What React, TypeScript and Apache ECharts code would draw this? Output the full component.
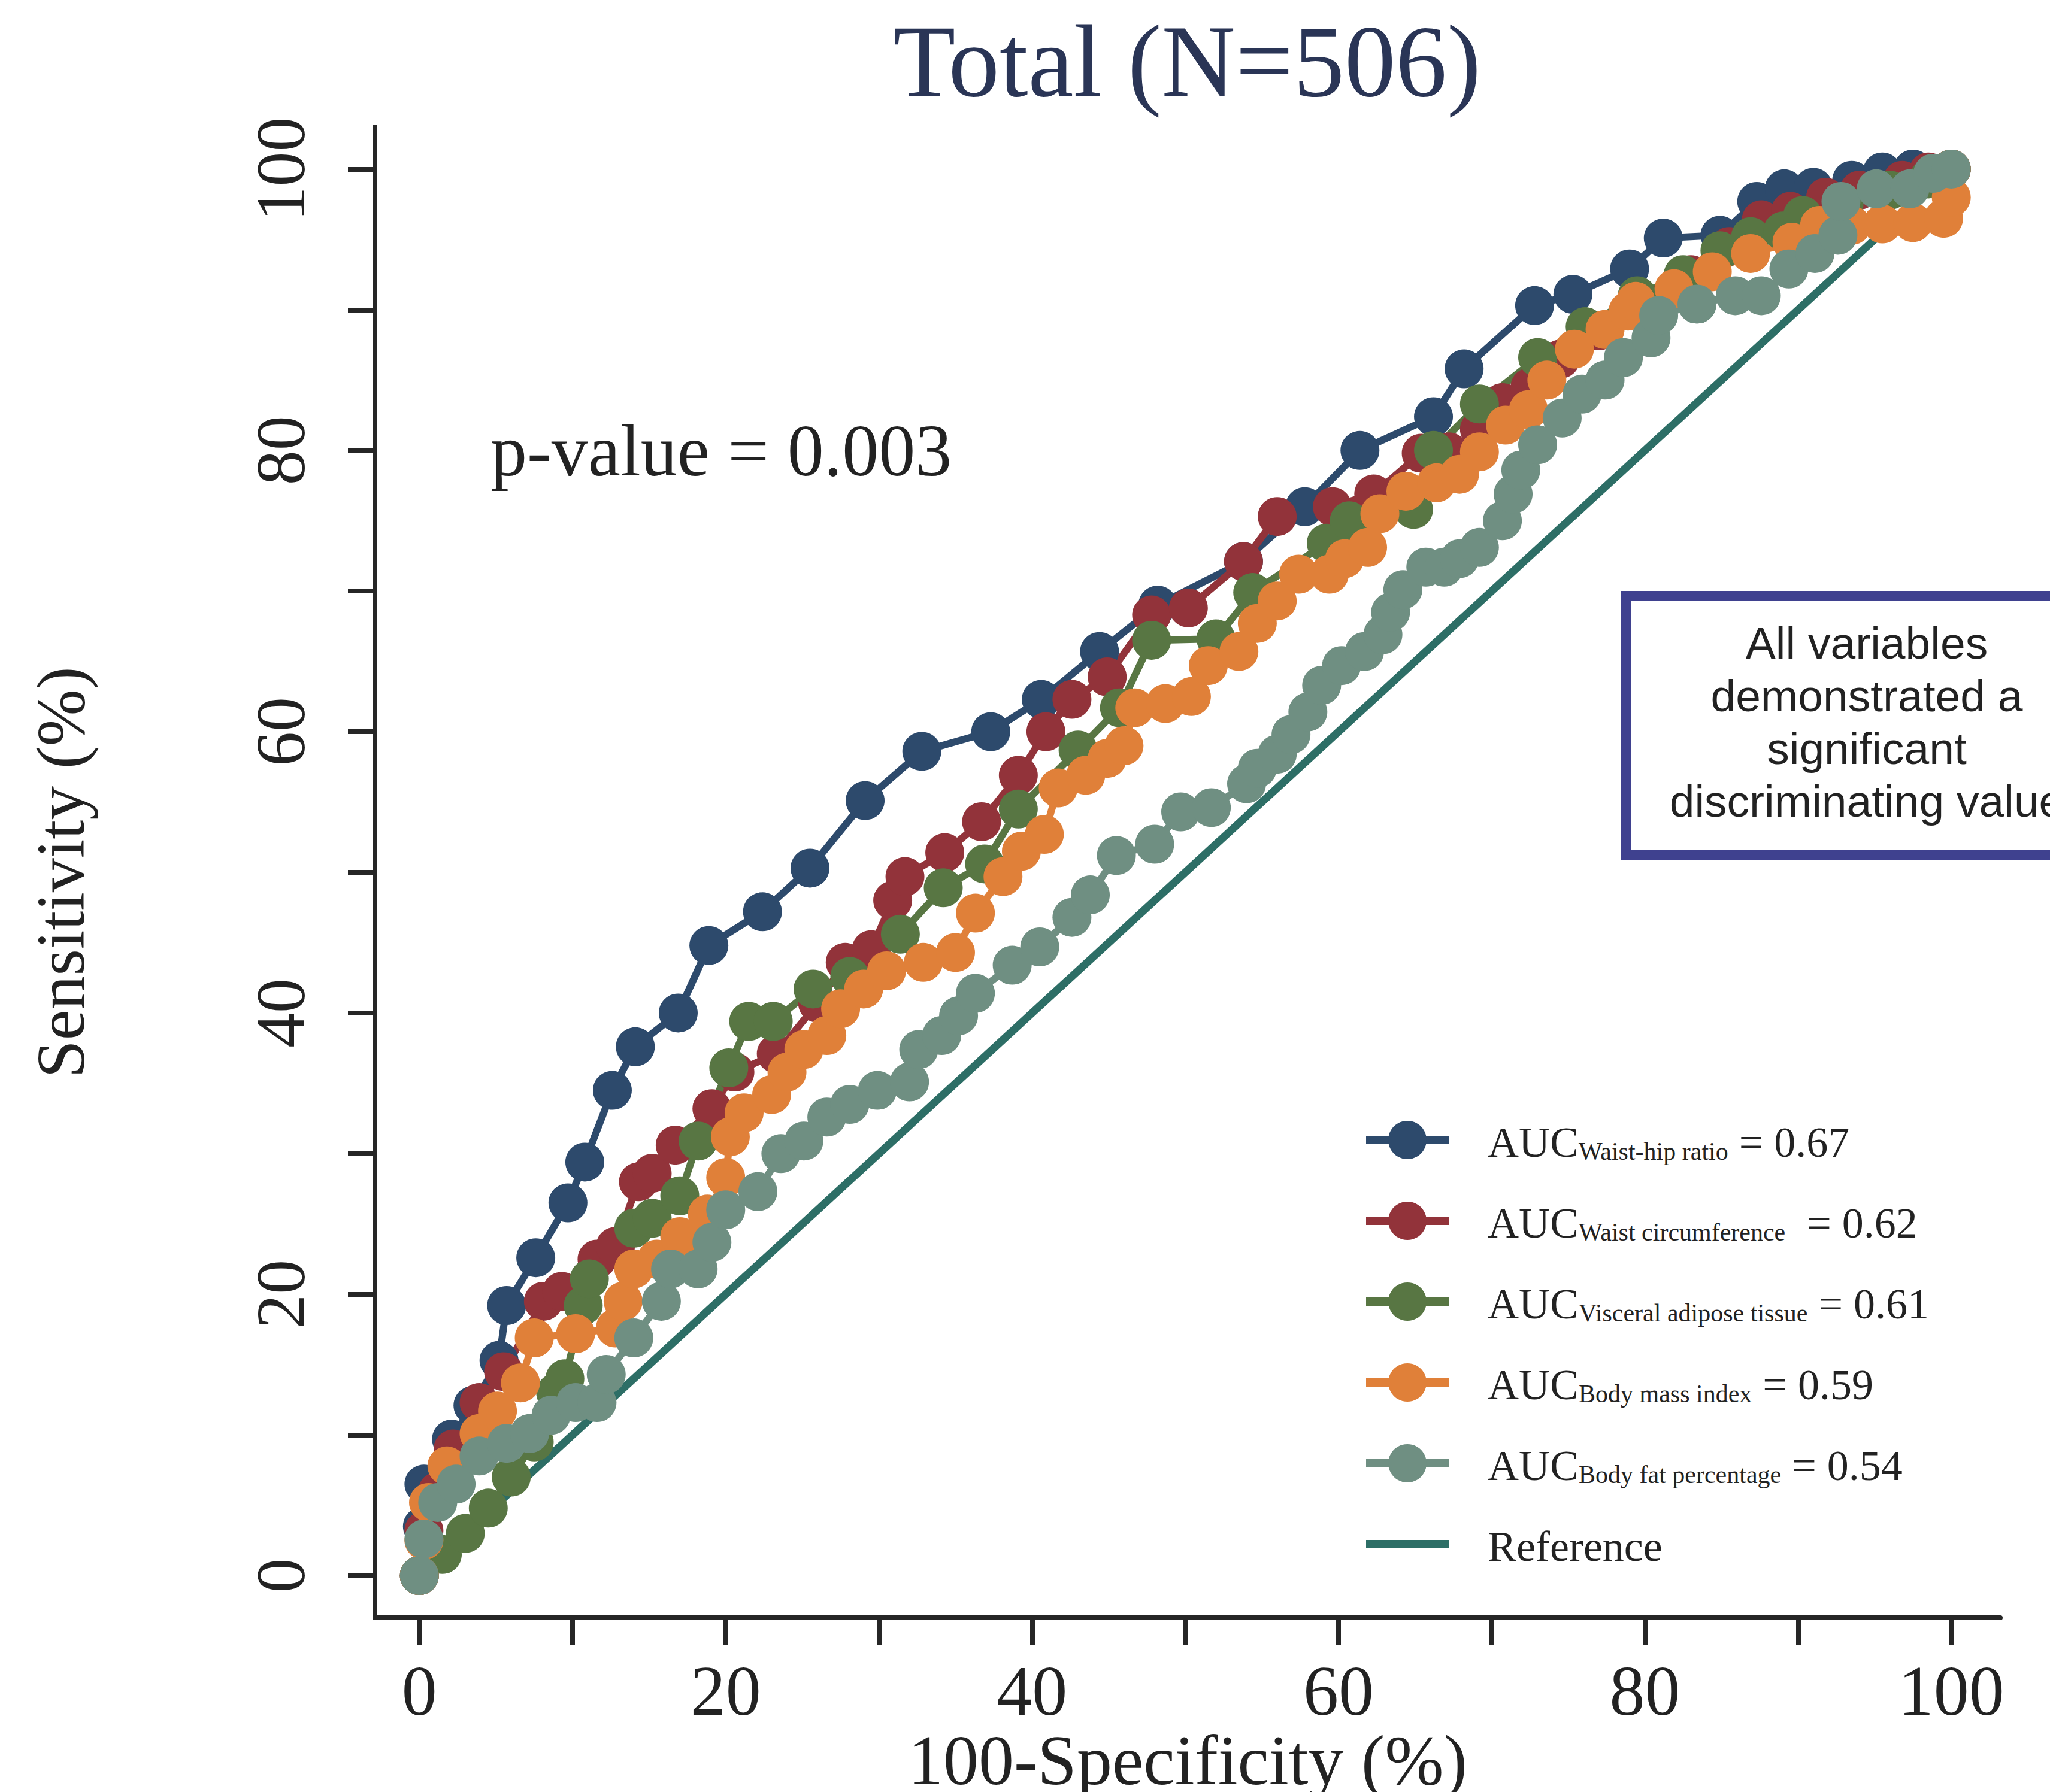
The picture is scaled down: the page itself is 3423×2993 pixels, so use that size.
import React, { useEffect, useRef } from "react";
import * as echarts from "echarts";

// ---------- data ----------
const xTickValues = [0, 10, 20, 30, 40, 50, 60, 70, 80, 90, 100];
const xLabelValues = [0, 20, 40, 60, 80, 100];
const yTickValues = [0, 10, 20, 30, 40, 50, 60, 70, 80, 90, 100];
const yLabelValues = [0, 20, 40, 60, 80, 100];

const seriesNames = [
  "Waist-hip ratio",
  "Waist circumference",
  "Visceral adipose tissue",
  "Body mass index",
  "Body fat percentage",
];
const aucValues = ["0.67", "0.62", "0.61", "0.59", "0.54"];
const aucSeparators = [" ", "  ", " ", " ", " "];
const referenceName = "Reference";

const waistHipRatio: [number, number][] = [
  [0, 0], [0.2, 3.5], [0.3, 6.5], [2.1, 9.7], [3.5, 12.1], [5.2, 15.3], [5.7, 19.2],
  [7.6, 22.6], [9.7, 26.5], [10.8, 29.4], [12.6, 34.5], [14.1, 37.6], [16.9, 40.0],
  [18.9, 44.8], [22.4, 47.2], [25.5, 50.3], [29.1, 55.1], [32.8, 58.6], [37.3, 60.0],
  [40.6, 62.3], [44.4, 65.7], [48.2, 69.0], [53.8, 72.1], [57.8, 76.0], [61.4, 80.0],
  [66.2, 82.4], [68.2, 85.8], [72.8, 90.3], [75.3, 91.1], [79.0, 92.9], [81.2, 95.1],
  [84.9, 95.3], [87.3, 97.7], [89.1, 98.6], [91.0, 98.7], [93.5, 99.2], [95.5, 99.8],
  [97.5, 100], [100, 100],
];

const waistCircumference: [number, number][] = [
  [0, 0], [0.3, 3.2], [1.2, 6.0], [2.2, 9.0], [3.9, 12.3], [5.5, 14.5], [8.1, 19.5],
  [9.3, 20.2], [11.6, 22.5], [12.8, 23.4], [14.3, 28.0], [15.2, 28.6], [16.7, 30.6],
  [19.1, 33.2], [20.6, 35.8], [23.3, 37.1], [26.0, 40.7], [27.8, 43.6], [29.5, 44.5],
  [30.9, 48.0], [31.7, 49.7], [34.3, 51.4], [36.7, 53.6], [39.1, 56.9], [40.9, 60.0],
  [42.6, 62.3], [44.9, 63.9], [47.8, 68.3], [50.2, 68.8], [53.8, 72.1], [56.0, 75.3],
  [59.6, 76.0], [62.3, 76.9], [65.4, 79.8], [67.2, 79.9], [69.2, 81.5], [70.7, 83.4],
  [72.5, 84.5], [74.5, 86.5], [77.0, 88.5], [80.0, 90.5], [83.0, 92.5], [85.5, 94.5],
  [87.6, 96.4], [89.5, 97.0], [91.8, 98.0], [94.0, 98.5], [96.8, 99.2], [98.5, 99.8],
  [100, 100],
];

const visceralAdiposeTissue: [number, number][] = [
  [0, 0], [1.5, 1.5], [3.0, 3.0], [4.5, 4.8], [6.0, 7.0], [7.5, 9.5], [8.9, 13.0],
  [9.5, 14.0], [10.7, 19.2], [11.1, 21.1], [14.0, 24.7], [15.2, 25.4], [17.0, 27.0],
  [18.2, 30.9], [20.2, 36.1], [21.5, 39.4], [23.1, 39.4], [25.7, 41.7], [28.1, 42.6],
  [31.4, 45.6], [34.2, 48.9], [36.9, 50.6], [39.1, 54.5], [43.0, 58.7], [45.7, 61.7],
  [47.8, 66.5], [52.0, 66.6], [54.4, 69.9], [59.2, 73.4], [60.7, 75.0], [64.9, 75.8],
  [66.2, 80.0], [69.2, 83.3], [73.0, 86.6], [76.1, 88.8], [79.5, 91.0], [82.5, 92.5],
  [84.9, 94.2], [86.9, 95.2], [89.0, 95.6], [90.3, 96.7], [93.0, 97.5], [96.0, 98.5],
  [98.5, 99.3], [100, 100],
];

const bodyMassIndex: [number, number][] = [
  [0, 0], [0.3, 2.5], [0.6, 5.2], [1.8, 7.8], [3.9, 10.1], [5.1, 11.7], [6.6, 13.7],
  [7.5, 16.9], [10.2, 17.2], [12.8, 17.6], [13.3, 19.5], [14.0, 21.8], [15.5, 22.5],
  [17.0, 24.1], [18.8, 25.7], [20.0, 28.3], [20.3, 31.2], [21.2, 32.9], [23.0, 34.2],
  [24.0, 35.8], [25.1, 37.4], [26.6, 38.4], [27.5, 40.3], [29.0, 41.7], [30.5, 43.0],
  [32.9, 43.6], [35.0, 44.3], [36.3, 47.1], [38.1, 49.7], [39.3, 51.5], [40.8, 52.7],
  [41.7, 56.0], [43.5, 56.9], [44.9, 58.1], [46.0, 59.0], [46.7, 61.7], [48.7, 62.0],
  [50.4, 62.5], [51.5, 64.7], [53.5, 65.7], [54.7, 67.7], [56.0, 69.3], [57.4, 71.2],
  [59.4, 71.2], [60.4, 72.3], [61.9, 73.1], [62.7, 75.5], [64.4, 77.1], [66.4, 77.7],
  [67.9, 78.3], [69.2, 79.9], [70.9, 81.8], [72.4, 82.9], [73.6, 85.0], [75.4, 87.2],
  [77.4, 88.6], [78.9, 89.9], [79.4, 90.6], [81.9, 91.5], [84.4, 92.7], [86.9, 94.0],
  [89.6, 94.8], [91.4, 96.0], [93.5, 96.0], [95.5, 96.1], [97.5, 96.2], [99.5, 96.5],
  [100, 98.0], [100, 100],
];

const bodyFatPercentage: [number, number][] = [
  [0, 0], [0.3, 2.6], [1.2, 5.2], [2.4, 6.5], [3.9, 8.5], [5.7, 9.4], [7.2, 10.1],
  [8.6, 11.4], [10.2, 12.3], [11.6, 12.3], [12.2, 14.3], [14.0, 16.9], [15.8, 19.5],
  [16.4, 21.8], [18.2, 21.8], [19.1, 23.7], [20.0, 26.0], [22.1, 27.3], [23.6, 30.0],
  [25.1, 30.9], [26.6, 32.6], [28.1, 33.5], [29.9, 34.5], [32.0, 35.1], [32.6, 37.4],
  [34.1, 38.4], [35.2, 39.8], [36.3, 41.4], [38.7, 43.4], [40.5, 44.7], [42.6, 46.8],
  [43.8, 48.4], [45.5, 51.2], [48.0, 52.0], [49.7, 54.3], [51.7, 54.6], [54.0, 56.3],
  [54.7, 57.4], [56.0, 58.4], [56.9, 59.8], [58.0, 61.4], [58.9, 63.3], [60.2, 64.7],
  [61.7, 65.7], [62.9, 66.9], [63.4, 68.5], [64.2, 70.1], [65.7, 71.7], [66.9, 71.7],
  [67.9, 72.3], [69.2, 73.1], [70.7, 75.0], [71.4, 76.9], [71.9, 78.6], [73.0, 80.4],
  [74.6, 82.3], [75.9, 84.0], [77.4, 85.0], [78.6, 86.6], [80.4, 88.0], [80.9, 89.6],
  [83.4, 90.4], [85.9, 91.0], [87.6, 91.0], [89.4, 92.9], [91.1, 94.0], [92.6, 95.3],
  [92.8, 97.7], [95.1, 98.6], [97.3, 98.6], [98.8, 99.7], [100, 100],
];

const referenceLine: [number, number][] = [[0, 0], [100, 100]];

const rocData = [waistHipRatio, waistCircumference, visceralAdiposeTissue, bodyMassIndex, bodyFatPercentage];
const rocColors = ["#2d4a6c", "#92333a", "#587643", "#e08039", "#6f8f82"];
const referenceColor = "#2d6e66";

const titleText = "Total (N=506)";
const pValueText = "p-value = 0.003";
const boxLines = ["All variables", "demonstrated a", "significant", "discriminating value"];

// ---------- component ----------
const SERIF = "'Liberation Serif', 'Times New Roman', serif";
const SANS = "'Liberation Sans', Arial, sans-serif";
const INK = "#222222";

export default function App() {
  const ref = useRef<HTMLDivElement>(null);

  useEffect(() => {
    document.body.style.margin = "0";
    if (!ref.current) return;
    const chart = echarts.init(ref.current, null, { renderer: "svg" });

    const rocSeries = rocData.map((d, i) => ({
      name: seriesNames[i],
      type: "line",
      data: d,
      color: rocColors[i],
      symbol: "circle",
      symbolSize: 65,
      showAllSymbol: true,
      lineStyle: { width: 12, color: rocColors[i] },
      itemStyle: { color: rocColors[i] },
      emphasis: { disabled: true },
      clip: false,
    }));

    const option: any = {
      animation: false,
      backgroundColor: "#ffffff",
      title: {
        text: titleText,
        left: 1982,
        top: 17,
        textAlign: "center",
        padding: 0,
        textStyle: { fontFamily: SERIF, fontSize: 171, fontWeight: "normal", color: "#2a3556" },
      },
      grid: {
        left: 626,
        right: 83,
        top: 212,
        bottom: 291,
        containLabel: false,
        outerBoundsMode: "none",
      },
      xAxis: {
        type: "value",
        min: -2.9,
        max: 103.2,
        splitLine: { show: false },
        axisLine: { show: true, onZero: false, lineStyle: { color: "#262626", width: 8 } },
        axisTick: { show: true, length: 45, lineStyle: { color: "#262626", width: 8 }, customValues: xTickValues },
        axisLabel: {
          customValues: xLabelValues,
          margin: 72,
          fontFamily: SERIF,
          fontSize: 118,
          lineHeight: 100,
          color: INK,
        },
        name: "100-Specificity (%)",
        nameLocation: "middle",
        nameGap: 179,
        nameMoveOverlap: false,
        nameTextStyle: { fontFamily: SERIF, fontSize: 118, lineHeight: 118, color: INK },
      },
      yAxis: {
        type: "value",
        min: -3,
        max: 103,
        splitLine: { show: false },
        axisLine: { show: true, onZero: false, lineStyle: { color: "#262626", width: 8 } },
        axisTick: { show: true, length: 45, lineStyle: { color: "#262626", width: 8 }, customValues: yTickValues },
        axisLabel: {
          customValues: yLabelValues,
          rotate: 90,
          margin: 99,
          fontFamily: SERIF,
          fontSize: 116,
          color: INK,
        },
        name: "Sensitivity (%)",
        nameLocation: "middle",
        nameGap: 468,
        nameMoveOverlap: false,
        nameTextStyle: { fontFamily: SERIF, fontSize: 114, color: INK },
      },
      legend: {
        orient: "vertical",
        left: 2274,
        top: 1872,
        padding: 0,
        itemWidth: 138,
        itemHeight: 80,
        itemGap: 63,
        selectedMode: false,
        lineStyle: { width: 14 },
        data: [
          ...seriesNames,
          { name: referenceName, icon: "path://M0 0H138V14H0Z" },
        ],
        formatter: (name: string) => {
          const idx = seriesNames.indexOf(name);
          if (idx < 0) return `{m|${name}}`;
          return `{m|AUC}{s|${name}}{m|${aucSeparators[idx]}= ${aucValues[idx]}}`;
        },
        textStyle: {
          padding: [0, 0, 0, 60],
          rich: {
            m: { fontFamily: SERIF, fontSize: 72, color: INK, lineHeight: 80, verticalAlign: "bottom" },
            s: { fontFamily: SERIF, fontSize: 42, color: INK, lineHeight: 34, verticalAlign: "bottom" },
          },
        },
      },
      graphic: [
        {
          type: "text",
          x: 819,
          y: 752,
          style: {
            text: pValueText,
            fontFamily: SERIF,
            fontSize: 122,
            fill: INK,
            textAlign: "left",
            textVerticalAlign: "middle",
          },
        },
        {
          type: "rect",
          shape: { x: 2715, y: 995, width: 804, height: 433 },
          style: { fill: "#ffffff", stroke: "#3f418f", lineWidth: 16 },
          z: 10,
        },
        {
          type: "text",
          x: 3117,
          y: 1206,
          z: 11,
          style: {
            text: boxLines.join("\n"),
            fontFamily: SANS,
            fontSize: 75,
            lineHeight: 88,
            fill: INK,
            textAlign: "center",
            textVerticalAlign: "middle",
          },
        },
      ],
      series: [
        ...rocSeries,
        {
          name: referenceName,
          type: "line",
          data: referenceLine,
          color: referenceColor,
          symbol: "none",
          lineStyle: { width: 13, color: referenceColor },
          itemStyle: { color: referenceColor },
          emphasis: { disabled: true },
        },
      ],
    };

    chart.setOption(option);
    return () => chart.dispose();
  }, []);

  return <div ref={ref} style={{ width: 3423, height: 2993 }} />;
}
